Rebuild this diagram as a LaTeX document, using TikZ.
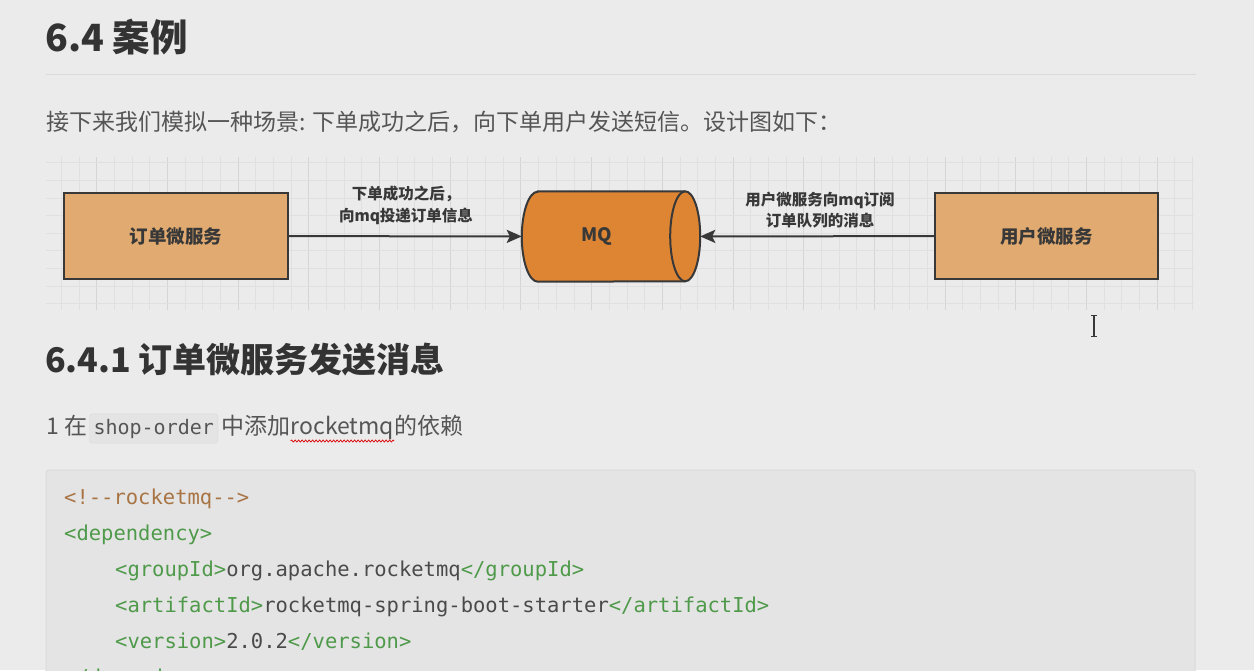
\documentclass[tikz,border=0pt]{standalone}
\usepackage{fontspec}
\setmainfont{Noto Sans CJK SC}
\newfontfamily\mono{DejaVu Sans Mono}
\usetikzlibrary{arrows.meta,calc,decorations.pathmorphing}
\definecolor{pagebg}{HTML}{EBEBEB}
\definecolor{codebg}{HTML}{E4E4E4}
\definecolor{codeborder}{HTML}{DADADA}
\definecolor{gridminor}{HTML}{E0E0E0}
\definecolor{gridmajor}{HTML}{D5D5D5}
\definecolor{boxfill}{HTML}{E1AA70}
\definecolor{mqfill}{HTML}{DE8534}
\definecolor{strokec}{HTML}{383838}
\definecolor{headc}{HTML}{333333}
\definecolor{bodyc}{HTML}{555555}
\definecolor{ctag}{HTML}{4F9A4A}
\definecolor{ccom}{HTML}{A87444}
\definecolor{ctxt}{HTML}{4A4A4A}
\begin{document}
\begin{tikzpicture}[x=1pt,y=-1pt,
  txt/.style={anchor=base west,inner sep=0pt},
  headtxt/.style={txt,text=headc,font=\fontsize{37.5}{40}\selectfont\bfseries},
  subheadtxt/.style={txt,text=headc,font=\fontsize{34}{40}\selectfont\bfseries},
  bodytxt/.style={txt,text=bodyc,font=\fontsize{23}{26}\selectfont},
  svc/.style={draw=strokec,line width=2pt,fill=boxfill,minimum width=224pt,minimum height=86pt,
    text=strokec,font=\fontsize{18.5}{22}\selectfont\bfseries},
  lbl/.style={align=center,text=strokec,font=\fontsize{15.5}{21.5}\selectfont\bfseries,inner sep=0pt},
  conn/.style={draw=strokec,line width=2pt,-{Stealth[length=15pt,width=13pt,inset=3pt]}},
  codeline/.style={txt,text=ctxt,font=\mono\fontsize{20.5}{24}\selectfont},
  gridl/.style={draw=gridminor,line width=0.8pt},
  gridM/.style={draw=gridmajor,line width=1pt}]
\useasboundingbox (0,0) rectangle (1254,670);
\clip (0,0) rectangle (1254,670);
\fill[pagebg] (0,0) rectangle (1254,670);

% heading
\node[headtxt] (h1) at (45,51.5) {6.4 案例};
\draw[draw=codeborder,line width=1pt] (46,74) -- (1196,74);
\node[bodytxt] (p1) at (46,130) {接下来我们模拟一种场景: 下单成功之后，向下单用户发送短信。设计图如下：};

% grid area
\foreach \k in {-2,...,62}{
  \pgfmathsetmacro{\gx}{96.7+17.675*\k}
  \pgfmathtruncatemacro{\gm}{mod(\k+400,4)}
  \ifnum\gm=0
    \draw[gridM] (\gx,157) -- (\gx,310);
  \else
    \draw[gridl] (\gx,157) -- (\gx,310);
  \fi
}
\foreach \j in {0,...,8}{
  \pgfmathsetmacro{\gy}{162.7+17.6*\j}
  \draw[gridl] (46,\gy) -- (1194,\gy);
}

% nodes
\node[svc] (order) at (176,236) {订单微服务};
\node[svc,minimum width=223pt] (user) at (1046.5,236) {用户微服务};
\node[minimum width=178pt,minimum height=90pt,inner sep=0pt] (mq) at (611,236.5) {};
\filldraw[draw=strokec,fill=mqfill,line width=2pt]
  ($(mq.north west)+(16,0)$) -- ($(mq.north east)+(-15,0)$)
  arc[start angle=90,end angle=-90,x radius=15pt,y radius=45pt]
  -- ($(mq.south west)+(16,0)$)
  arc[start angle=270,end angle=90,x radius=16pt,y radius=45pt] -- cycle;
\draw[draw=strokec,line width=2pt] ($(mq.north east)+(-15,0)$)
  arc[start angle=90,end angle=270,x radius=15pt,y radius=45pt];
\node[text=strokec,font=\fontsize{18.5}{22}\selectfont\bfseries] (mqt) at ($(mq.center)+(-14,0)$) {MQ};

% connectors
\draw[conn] (order) -- (mq);
\draw[conn] (user) -- (mq);
\node[lbl] (l1) at (406,205.5) {下单成功之后，\\向mq投递订单信息};
\node[lbl] (l2) at (820,210) {用户微服务向mq订阅\\订单队列的消息};

% cursor
\draw[strokec,line width=1.2pt] (1094,315) -- (1094,336);
\draw[strokec,line width=1pt] (1091,315) -- (1097,315) (1091,336) -- (1097,336);

% subheading
\node[subheadtxt] (h2) at (45,372) {6.4.1 订单微服务发送消息};
\node[bodytxt] (s1) at (46,434) {1 在};
\node[txt,anchor=base west,fill=codebg,draw=codeborder,rounded corners=3pt,inner xsep=4pt,inner ysep=5pt,
  text=bodyc,font=\mono\fontsize{20}{22}\selectfont] (ic) at ($(s1.base east)+(2,0)$) {shop-order};
\node[bodytxt] (s2) at ($(ic.base east)+(3,0)$) {中添加};
\node[bodytxt] (s3) at (s2.base east) {rocketmq};
\node[bodytxt] (s4) at (s3.base east) {的依赖};
\draw[red!85!black,line width=0.7pt,decorate,decoration={snake,amplitude=1pt,segment length=3.5pt}]
  ($(s3.base west)+(0,7)$) -- ($(s3.base east)+(0,7)$);

% code block
\draw[fill=codebg,draw=codeborder,line width=1pt,rounded corners=3pt] (46,470) rectangle (1195,700);
\node[codeline] (c1) at (64,504) {\color{ccom}<!-{}-rocketmq-{}->};
\node[codeline] (c2) at (64,540) {\color{ctag}<dependency>};
\node[codeline] (c3) at (115,576) {\color{ctag}<groupId>\color{ctxt}org.apache.rocketmq\color{ctag}</groupId>};
\node[codeline] (c4) at (115,612) {\color{ctag}<artifactId>\color{ctxt}rocketmq-spring-boot-starter\color{ctag}</artifactId>};
\node[codeline] (c5) at (115,648) {\color{ctag}<version>\color{ctxt}2.0.2\color{ctag}</version>};
\node[codeline] (c6) at (64,684) {\color{ctag}</dependency>};
\end{tikzpicture}
\end{document}
